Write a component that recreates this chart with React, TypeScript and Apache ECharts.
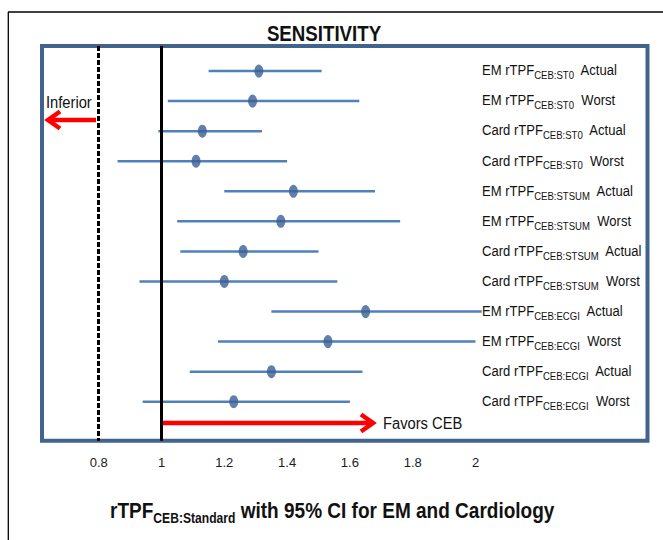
import React, { useEffect, useRef } from "react";
import * as echarts from "echarts";

// Forest plot rows, top to bottom
const rowGroups = [
  "EM rTPF", "EM rTPF", "Card rTPF", "Card rTPF",
  "EM rTPF", "EM rTPF", "Card rTPF", "Card rTPF",
  "EM rTPF", "EM rTPF", "Card rTPF", "Card rTPF",
];
const rowSubscripts = [
  "CEB:ST0", "CEB:ST0", "CEB:ST0", "CEB:ST0",
  "CEB:STSUM", "CEB:STSUM", "CEB:STSUM", "CEB:STSUM",
  "CEB:ECGI", "CEB:ECGI", "CEB:ECGI", "CEB:ECGI",
];
const rowScenarios = [
  "Actual", "Worst", "Actual", "Worst",
  "Actual", "Worst", "Actual", "Worst",
  "Actual", "Worst", "Actual", "Worst",
];
const estimates = [1.31, 1.29, 1.13, 1.11, 1.42, 1.38, 1.26, 1.2, 1.65, 1.53, 1.35, 1.23];
const lowerCI = [1.15, 1.02, 0.99, 0.86, 1.2, 1.05, 1.06, 0.93, 1.35, 1.18, 1.09, 0.94];
const upperCI = [1.51, 1.63, 1.32, 1.4, 1.68, 1.76, 1.5, 1.56, 2.02, 2.0, 1.64, 1.6];
const xTicks = [0.8, 1, 1.2, 1.4, 1.6, 1.8, 2];
const inferiorityMargin = 0.8;
const noDifference = 1;

const SANS = "'Liberation Sans', Arial, sans-serif";
const BOX_BLUE = "#41648f";
const CI_BLUE = "#4f81bd";
const DOT_BLUE = "#3a5f94";
const RED = "#ff0000";

export default function App() {
  const ref = useRef<HTMLDivElement>(null);

  useEffect(() => {
    if (!ref.current) return;
    const chart = echarts.init(ref.current, undefined, { renderer: "svg" });

    const rowLabelRich = {
      m: { fontSize: 15, fontFamily: SANS, fill: "#111", lineHeight: 22, verticalAlign: "middle" },
      s: { fontSize: 11, fontFamily: SANS, fill: "#111", lineHeight: 22, verticalAlign: "bottom" },
    };

    const option: any = {
      animation: false,
      backgroundColor: "#ffffff",
      grid: {
        left: 42,
        right: 15.5,
        top: 46,
        bottom: 99.2,
        show: true,
        borderColor: BOX_BLUE,
        borderWidth: 4,
        backgroundColor: "transparent",
      },
      xAxis: {
        type: "value",
        min: 0.6194,
        max: 2.5478,
        axisLine: { show: false },
        axisTick: { show: false },
        splitLine: { show: false },
        axisLabel: {
          customValues: xTicks,
          margin: 15,
          fontSize: 13,
          color: "#1a1a1a",
          fontFamily: SANS,
          formatter: (v: number) => String(v),
        },
      },
      yAxis: {
        type: "value",
        inverse: true,
        min: -0.832,
        max: 12.3,
        show: false,
      },
      series: [
        {
          type: "custom",
          data: estimates.map((_, i) => [lowerCI[i], upperCI[i], i]),
          encode: { x: [0, 1], y: 2 },
          renderItem: (_params: any, api: any) => {
            const i = api.value(2);
            const a = api.coord([api.value(0), i]);
            const b = api.coord([api.value(1), i]);
            return {
              type: "group",
              children: [
                {
                  type: "line",
                  shape: { x1: a[0], y1: a[1], x2: b[0], y2: b[1] },
                  style: { stroke: CI_BLUE, lineWidth: 2.5 },
                },
                {
                  type: "text",
                  x: 482,
                  y: a[1] - 1,
                  scaleX: 0.87,
                  style: {
                    text: `{m|${rowGroups[i]}}{s|${rowSubscripts[i]}}{m|  ${rowScenarios[i]}}`,
                    rich: rowLabelRich,
                    align: "left",
                    verticalAlign: "middle",
                  },
                },
              ],
            };
          },
          markLine: {
            silent: true,
            symbol: "none",
            label: { show: false },
            data: [
              { xAxis: inferiorityMargin, lineStyle: { color: "#000", width: 3, type: [5, 2] } },
              { xAxis: noDifference, lineStyle: { color: "#000", width: 3, type: "solid" } },
            ],
          },
          z: 2,
        },
        {
          type: "scatter",
          data: estimates.map((v, i) => [v, i]),
          symbol: "circle",
          symbolSize: [9, 13],
          itemStyle: { color: DOT_BLUE },
          z: 3,
        },
      ],
      graphic: [
        // page frame
        { type: "line", shape: { x1: 8, y1: 12, x2: 663, y2: 12 }, style: { stroke: "#000", lineWidth: 1.3 } },
        { type: "line", shape: { x1: 8.3, y1: 12, x2: 8.3, y2: 540 }, style: { stroke: "#000", lineWidth: 1.3 } },
        {
          type: "text",
          x: 324,
          y: 33,
          scaleX: 0.85,
          style: {
            text: "SENSITIVITY",
            fontSize: 22,
            fontWeight: "bold",
            fontFamily: SANS,
            fill: "#111",
            align: "center",
            verticalAlign: "middle",
          },
        },
        {
          type: "text",
          x: 46,
          y: 102,
          scaleX: 0.92,
          style: {
            text: "Inferior",
            fontSize: 16,
            fontFamily: SANS,
            fill: "#111",
            align: "left",
            verticalAlign: "middle",
          },
        },
        {
          type: "polyline",
          shape: { points: [[96, 120], [49, 120]] },
          style: { stroke: RED, lineWidth: 4.5, fill: null },
        },
        {
          type: "polyline",
          shape: { points: [[60, 111.5], [48, 120], [60, 128.5]] },
          style: { stroke: RED, lineWidth: 4.5, fill: null, lineJoin: "miter" },
        },
        {
          type: "polyline",
          shape: { points: [[162, 423], [371, 423]] },
          style: { stroke: RED, lineWidth: 4.5, fill: null },
        },
        {
          type: "polyline",
          shape: { points: [[361, 414.5], [373, 423], [361, 431.5]] },
          style: { stroke: RED, lineWidth: 4.5, fill: null, lineJoin: "miter" },
        },
        {
          type: "text",
          x: 383,
          y: 423,
          scaleX: 0.92,
          style: {
            text: "Favors CEB",
            fontSize: 16,
            fontFamily: SANS,
            fill: "#111",
            align: "left",
            verticalAlign: "middle",
          },
        },
        {
          type: "text",
          x: 110,
          y: 510,
          scaleX: 0.865,
          style: {
            text: "{m|rTPF}{s|CEB:Standard}{m| with 95% CI for EM and Cardiology}",
            align: "left",
            verticalAlign: "middle",
            rich: {
              m: { fontSize: 22, fontWeight: "bold", fontFamily: SANS, fill: "#111", lineHeight: 30, verticalAlign: "middle" },
              s: { fontSize: 14, fontWeight: "bold", fontFamily: SANS, fill: "#111", lineHeight: 30, verticalAlign: "bottom" },
            },
          },
        },
      ],
    };

    chart.setOption(option);
    return () => chart.dispose();
  }, []);

  return (
    <div
      ref={ref}
      style={{ position: "fixed", left: 0, top: 0, width: 663, height: 540 }}
    />
  );
}
